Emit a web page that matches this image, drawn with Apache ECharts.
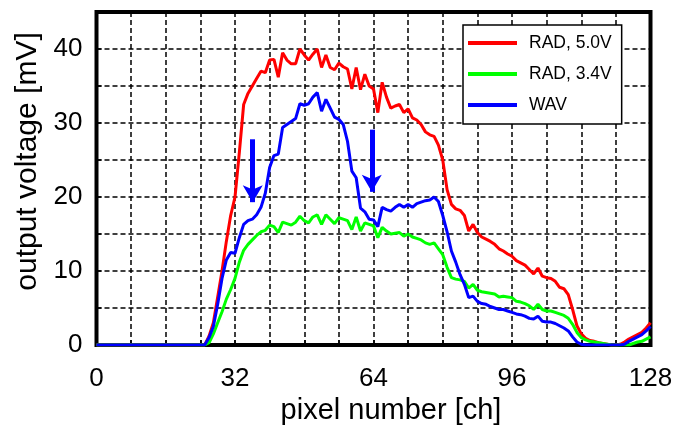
<!DOCTYPE html>
<html><head><meta charset="utf-8">
<script src="https://cdn.jsdelivr.net/npm/echarts@6/dist/echarts.min.js"></script>
<style>html,body{margin:0;padding:0;background:#fff}#c{width:678px;height:425px}</style>
</head><body><div id="c"></div>
<script>
const seriesNames = ['RAD, 5.0V', 'RAD, 3.4V', 'WAV'];
const seriesColors = ['#ff0000', '#00ff00', '#0000ff'];

// values per channel 0..128
const rad50 = [
  0,0,0,0,0,0,0,0,0,0,
  0,0,0,0,0,0,0,0,0,0,
  0,0,0,0,0,0,1.2,3,6.5,10,
  14,17.5,20,26,32.5,34,35,36,37,36.8,
  38.5,38.6,36.2,39.5,38.5,38,38,40,39.2,38.5,
  39.3,40,37.5,39.2,37.5,37.2,38.1,37.6,37.3,34.6,
  37.5,34.5,36.6,35,34.6,31.4,35.5,33.5,32,32.3,
  32.5,31.4,31.9,30.7,30.4,29.8,28.8,28.4,28.2,27,
  25,21,19,18.4,18.2,17.5,15.4,16.3,15.2,14.6,
  14.3,14,13.6,13,12.7,12.3,12,11.4,11.1,10.8,
  10.2,9.6,10.4,9.3,9.1,9,8.6,7.8,7.6,6.8,
  4.8,2.6,1.5,0.9,0.6,0.5,0.3,0.2,0.1,0,
  0,0.1,0.4,0.8,1.1,1.4,1.7,2.3,3
];
const rad34 = [
  0,0,0,0,0,0,0,0,0,0,
  0,0,0,0,0,0,0,0,0,0,
  0,0,0,0,0,0,0.3,1.5,3,4.5,
  6.2,7.5,9,11.2,12.8,13.6,14.2,14.8,15.3,15.5,
  16.2,16,15.2,16.6,16.4,16.2,16.6,17.4,16.8,16.5,
  17.3,17.6,16.3,17.6,17,16.4,17.2,17,16.8,15.6,
  17.3,15.4,16.5,16.3,16.1,14.5,15.9,15.4,15,15.1,
  15.2,14.7,15,14.6,14.4,14.2,13.8,13.6,13.8,13,
  12.2,10.5,9.1,8.9,8.8,8.6,7.7,8.2,7.4,7.2,
  7.1,7,6.9,6.5,6.6,6.5,6.4,5.9,5.8,5.6,
  5.3,4.8,5.5,4.8,4.6,4.6,4.4,4.2,4,3.6,
  2.8,1.7,1,0.7,0.5,0.4,0.3,0.2,0.1,0,
  0,0,0,0,0.2,0.4,0.5,0.8,1.1
];
const wav = [
  0,0,0,0,0,0,0,0,0,0,
  0,0,0,0,0,0,0,0,0,0,
  0,0,0,0,0,0,1,2.5,5.5,9,
  11.5,12.5,12.4,14.5,16.3,16.8,17,17.6,18.6,20.5,
  24,25.6,25.8,29.4,29.8,30.2,30.6,32.6,32.4,32.6,
  33.5,34.1,31.6,33.2,32,30.8,30.5,29.8,27.5,23.5,
  22.6,18.5,18,17,16.9,16,18.6,18.3,18.1,18.6,
  19,18.6,19,18.6,19.1,19.3,19.5,19.6,20,19.4,
  17.5,15.3,12.7,11.2,9.5,8.2,6.4,6.6,5.9,5.6,
  5.5,5.2,5,4.8,4.8,4.6,4.4,4.2,4.1,3.9,
  3.6,3.5,3.9,3.2,3.1,3.1,2.9,2.6,2.3,1.9,
  1.1,0.4,0.1,0,0,0,0,0,0,0,
  0,0,0.1,0.5,0.8,1.1,1.4,1.9,2.5
];
const xTickLabels = [0, 32, 64, 96, 128];
const yTickLabels = [0, 10, 20, 30, 40];
// annotation arrows (channel, start value, end value)
const arrowX = [36.1, 63.6];
const arrowFrom = [27.8, 29.1];
const arrowTo = [19.3, 20.7];

const FONT = 'Liberation Sans, Arial, sans-serif';
const allData = [rad50, rad34, wav];

const series = allData.map((vals, k) => ({
  name: seriesNames[k],
  type: 'line',
  showSymbol: false,
  symbol: 'none',
  color: seriesColors[k],
  lineStyle: { width: 3, color: seriesColors[k] },
  data: vals.map((v, i) => [i, v]),
  animation: false,
  z: 3 + k
}));
series[2].markLine = {
  silent: true,
  animation: false,
  symbol: ['none', 'arrow'],
  symbolSize: [15, 17],
  label: { show: false },
  lineStyle: { color: '#0000ff', width: 5, type: 'solid' },
  data: arrowX.map((x, i) => [{ coord: [x, arrowFrom[i]] }, { coord: [x, arrowTo[i]] }])
};

const chart = echarts.init(document.getElementById('c'), null, { renderer: 'canvas' });
chart.setOption({
  backgroundColor: '#fff',
  animation: false,
  grid: { left: 96.5, right: 27.5, top: 12, bottom: 80, outerBoundsMode: 'none', containLabel: false, show: true, borderColor: '#000', borderWidth: 4, backgroundColor: 'transparent' },
  legend: {
    orient: 'vertical', left: 463, top: 25,
    padding: [9, 10, 10, 5],
    backgroundColor: '#fff', borderColor: '#000', borderWidth: 1.5, borderRadius: 0,
    itemWidth: 49, itemHeight: 4, itemGap: 13, icon: 'rect',
    textStyle: { fontSize: 17.5, color: '#000', fontFamily: FONT, padding: [0, 0, 0, 7], lineHeight: 17 },
    data: seriesNames
  },
  xAxis: {
    type: 'value', min: 0, max: 128, interval: 8,
    axisLine: { show: false },
    axisTick: { show: true, inside: true, length: 5, lineStyle: { color: '#000', width: 1.5 } },
    axisLabel: { formatter: v => xTickLabels.includes(v) ? String(v) : '', fontSize: 26, color: '#000', fontFamily: FONT, margin: 21 },
    splitLine: { show: true, lineStyle: { type: [5, 3], color: '#000', width: 1.5 } },
    name: 'pixel number [ch]', nameLocation: 'middle', nameGap: 51,
    nameTextStyle: { fontSize: 29, color: '#000', fontFamily: FONT, padding: [0, 0, 0, 35] }
  },
  yAxis: {
    type: 'value', min: 0, max: 45, interval: 5,
    axisLine: { show: false },
    axisTick: { show: true, inside: true, length: 5, lineStyle: { color: '#000', width: 1.5 } },
    axisLabel: { formatter: v => yTickLabels.includes(v) ? String(v) : '', fontSize: 26, color: '#000', fontFamily: FONT, margin: 14 },
    splitLine: { show: true, lineStyle: { type: [5, 3], color: '#000', width: 1.5 } },
    name: 'output voltage [mV]', nameLocation: 'middle', nameGap: 53,
    nameTextStyle: { fontSize: 30, color: '#000', fontFamily: FONT, padding: [0, 0, 0, 34] }
  },
  series: series
});
</script>
</body></html>
